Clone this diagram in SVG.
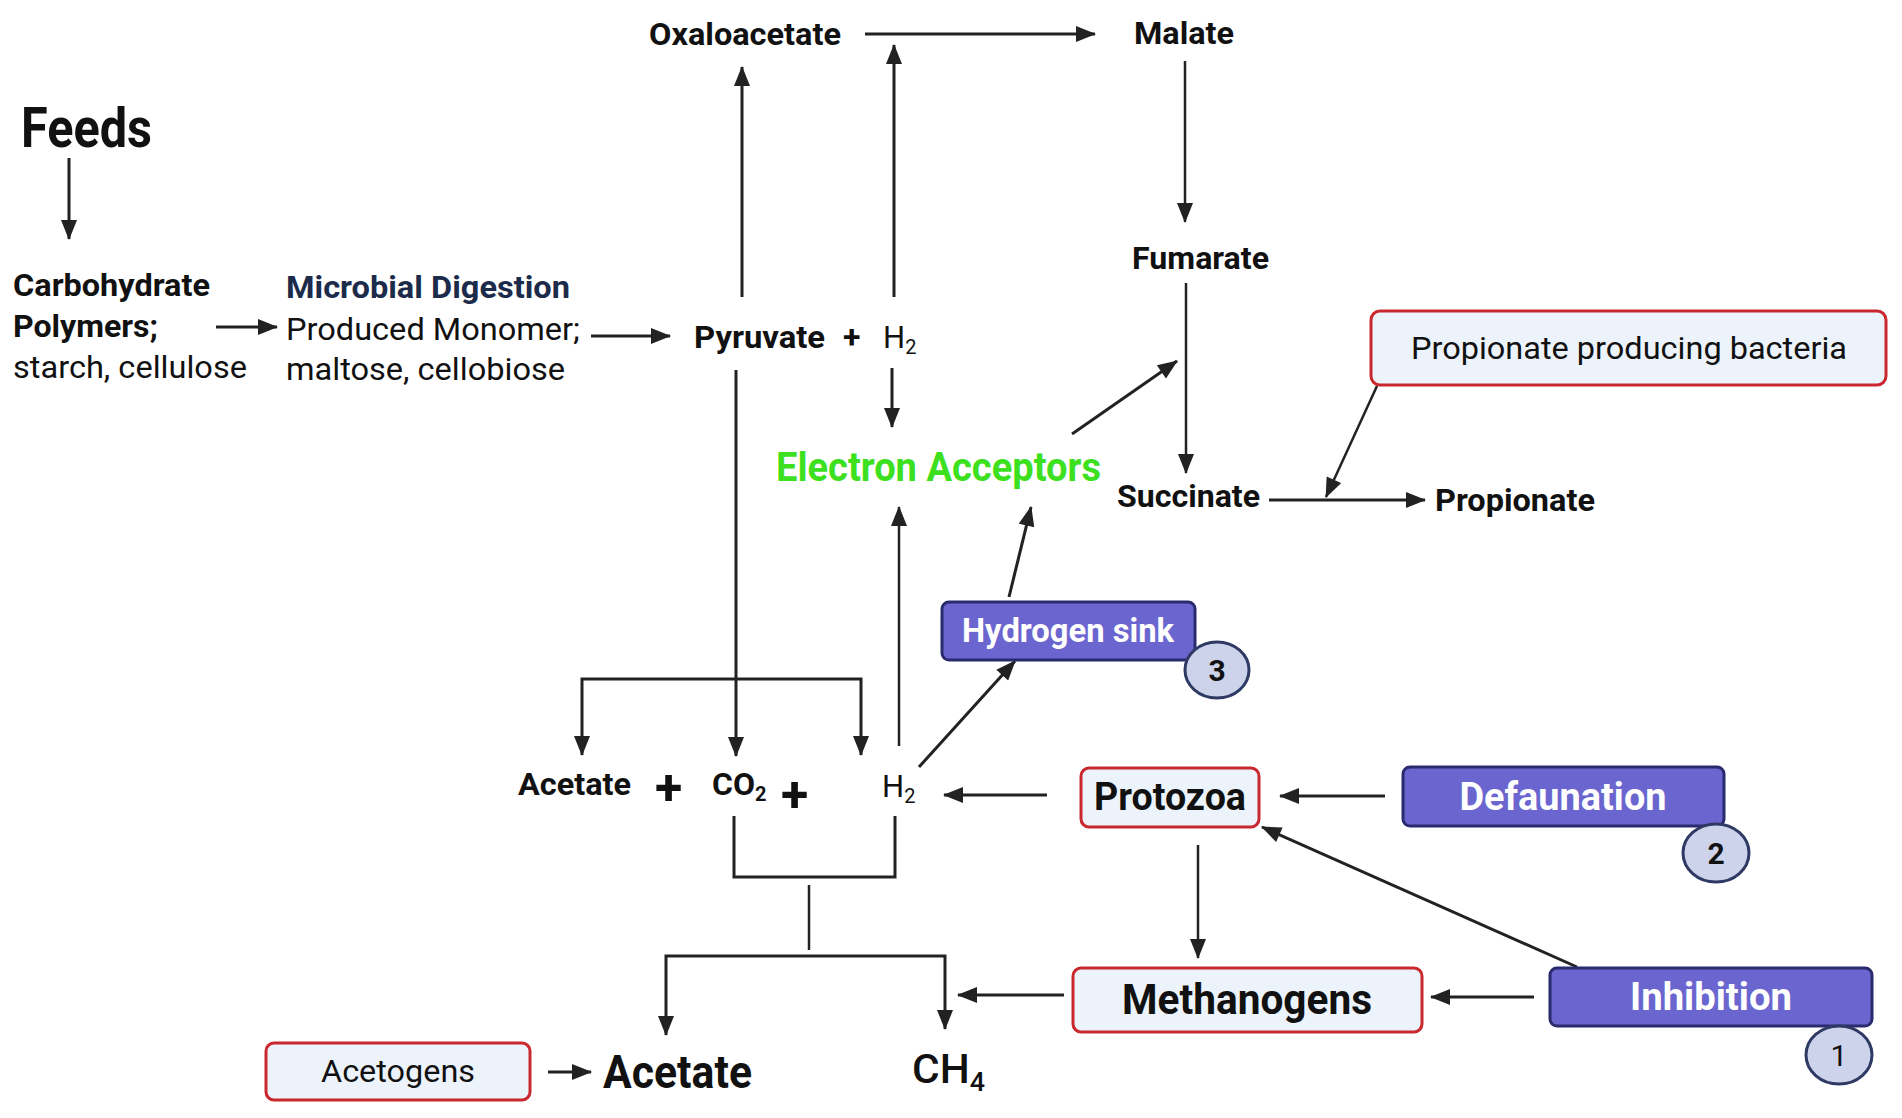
<svg xmlns="http://www.w3.org/2000/svg" width="1902" height="1118" viewBox="0 0 1902 1118">
<style>
text{font-family:Roboto,"Liberation Sans",sans-serif;fill:#111}
.b{font-weight:bold}
.lbl{font-size:32px;font-weight:bold}
.reg{font-size:31px}
.nav{fill:#1c2b4a}
.ln{fill:none;stroke:#222;stroke-width:3}
.thin{fill:none;stroke:#222;stroke-width:2.5}
.arr{marker-end:url(#ah)}
.rbox{fill:#edf3fb;stroke:#c9282f;stroke-width:3}
.pbox{fill:#6b66cf;stroke:#2a2b6e;stroke-width:3}
.circ{fill:#ccd3ea;stroke:#2f3a64;stroke-width:3}
.wt{fill:#fff;font-weight:bold}
</style>
<defs>
<marker id="ah" viewBox="0 0 20 16" refX="19" refY="8" markerWidth="21" markerHeight="16" markerUnits="userSpaceOnUse" orient="auto">
<path d="M0,0 L20,8 L0,16 z" fill="#222"/>
</marker>
</defs>
<rect width="1902" height="1118" fill="#fff"/>

<g id="connectors">
<path class="ln arr" d="M69,158 V239"/>
<path class="ln arr" d="M216,327 H277"/>
<path class="ln arr" d="M591,336 H670"/>
<path class="ln arr" d="M742,297 V67"/>
<path class="ln arr" d="M894,297 V45"/>
<path class="ln arr" d="M865,34 H1095"/>
<path class="thin arr" d="M1185,61 V222"/>
<path class="thin arr" d="M1186,283 V473"/>
<path class="ln arr" d="M892,368 V427"/>
<path class="ln arr" d="M1072,434 L1177,361"/>
<path class="ln arr" d="M1269,500 H1425"/>
<path class="thin arr" d="M1377,386 L1326,497"/>
<path class="ln arr" d="M736,370 V756"/>
<path class="ln arr" d="M736,679 H582 V755"/>
<path class="ln arr" d="M736,679 H861 V755"/>
<path class="thin arr" d="M899,746 V507"/>
<path class="ln arr" d="M1009,597 L1031,507"/>
<path class="ln arr" d="M919,767 L1015,661"/>
<path class="ln arr" d="M1047,795 H944"/>
<path class="ln arr" d="M1385,796 H1280"/>
<path class="thin arr" d="M1198,845 V958"/>
<path class="ln arr" d="M1577,967 L1262,827"/>
<path class="ln" d="M734,816 V877 H895 V816"/>
<path class="thin" d="M809,885 V950"/>
<path class="ln arr" d="M809,956 H666 V1035"/>
<path class="ln arr" d="M809,956 H945 V1029"/>
<path class="ln arr" d="M1064,995 H958"/>
<path class="ln arr" d="M1534,997 H1431"/>
<path class="ln arr" d="M548,1072 H591"/>
</g>

<g id="feeds"><text x="21" y="147" class="b" font-size="56" textLength="131" lengthAdjust="spacingAndGlyphs">Feeds</text></g>

<g id="carbohydrate">
<text x="13" y="296" class="lbl" textLength="197" lengthAdjust="spacingAndGlyphs">Carbohydrate</text>
<text x="13" y="337" class="lbl" textLength="145" lengthAdjust="spacingAndGlyphs">Polymers;</text>
<text x="13" y="378" class="reg" textLength="234" lengthAdjust="spacingAndGlyphs">starch, cellulose</text>
</g>

<g id="microbial">
<text x="286" y="298" class="lbl nav" textLength="284" lengthAdjust="spacingAndGlyphs">Microbial Digestion</text>
<text x="286" y="340" class="reg" textLength="294" lengthAdjust="spacingAndGlyphs">Produced Monomer;</text>
<text x="286" y="380" class="reg" textLength="279" lengthAdjust="spacingAndGlyphs">maltose, cellobiose</text>
</g>

<g id="pyruvate">
<text x="694" y="348" class="lbl" textLength="131" lengthAdjust="spacingAndGlyphs">Pyruvate</text>
<text x="843" y="348" class="lbl">+</text>
<text x="883" y="348" class="reg">H<tspan font-size="20" dy="6">2</tspan></text>
</g>

<g id="oxaloacetate"><text x="649" y="45" class="lbl" textLength="192" lengthAdjust="spacingAndGlyphs">Oxaloacetate</text></g>
<g id="malate"><text x="1134" y="44" class="lbl" textLength="100" lengthAdjust="spacingAndGlyphs">Malate</text></g>
<g id="fumarate"><text x="1132" y="269" class="lbl" textLength="137" lengthAdjust="spacingAndGlyphs">Fumarate</text></g>
<g id="succinate"><text x="1117" y="507" class="lbl" textLength="143" lengthAdjust="spacingAndGlyphs">Succinate</text></g>
<g id="propionate"><text x="1435" y="511" class="lbl" textLength="160" lengthAdjust="spacingAndGlyphs">Propionate</text></g>

<g id="electron-acceptors"><text x="776" y="481" font-size="40" font-weight="bold" style="fill:#3ce01e" textLength="325" lengthAdjust="spacingAndGlyphs">Electron Acceptors</text></g>

<g id="propionate-bacteria">
<rect class="rbox" x="1371" y="311" width="515" height="74" rx="9"/>
<text x="1629" y="359" class="reg" font-size="33" text-anchor="middle" textLength="436" lengthAdjust="spacingAndGlyphs">Propionate producing bacteria</text>
</g>

<g id="hydrogen-sink">
<rect class="pbox" x="942" y="602" width="253" height="58" rx="7"/>
<text x="1068" y="642" class="wt" font-size="33" text-anchor="middle" textLength="212" lengthAdjust="spacingAndGlyphs">Hydrogen sink</text>
<ellipse class="circ" cx="1217" cy="670" rx="32" ry="28"/>
<text x="1217" y="681" class="b" font-size="30" text-anchor="middle">3</text>
</g>

<g id="products">
<text x="518" y="795" class="lbl" textLength="113" lengthAdjust="spacingAndGlyphs">Acetate</text>
<text x="655" y="805" class="b" font-size="50">+</text>
<text x="712" y="795" class="lbl">CO<tspan font-size="20" dy="6">2</tspan></text>
<text x="781" y="812" class="b" font-size="50">+</text>
<text x="882" y="797" class="reg">H<tspan font-size="20" dy="6">2</tspan></text>
</g>

<g id="protozoa">
<rect class="rbox" x="1081" y="768" width="178" height="59" rx="8"/>
<text x="1170" y="810" class="b" font-size="39" text-anchor="middle" textLength="152" lengthAdjust="spacingAndGlyphs">Protozoa</text>
</g>

<g id="defaunation">
<rect class="pbox" x="1403" y="767" width="321" height="59" rx="7"/>
<text x="1563" y="810" class="wt" font-size="39" text-anchor="middle" textLength="207" lengthAdjust="spacingAndGlyphs">Defaunation</text>
<ellipse class="circ" cx="1716" cy="853" rx="33" ry="29"/>
<text x="1716" y="864" class="b" font-size="30" text-anchor="middle">2</text>
</g>

<g id="methanogens">
<rect class="rbox" x="1073" y="968" width="349" height="64" rx="8"/>
<text x="1247" y="1014" class="b" font-size="43" text-anchor="middle" textLength="250" lengthAdjust="spacingAndGlyphs">Methanogens</text>
</g>

<g id="inhibition">
<rect class="pbox" x="1550" y="968" width="322" height="58" rx="7"/>
<text x="1711" y="1010" class="wt" font-size="39" text-anchor="middle" textLength="162" lengthAdjust="spacingAndGlyphs">Inhibition</text>
<ellipse class="circ" cx="1839" cy="1055" rx="33" ry="29"/>
<text x="1839" y="1066" font-size="30" text-anchor="middle">1</text>
</g>

<g id="acetogens">
<rect class="rbox" x="266" y="1043" width="264" height="57" rx="8"/>
<text x="398" y="1082" class="reg" font-size="31" text-anchor="middle" textLength="154" lengthAdjust="spacingAndGlyphs">Acetogens</text>
</g>

<g id="acetate"><text x="603" y="1088" class="b" font-size="47" textLength="149" lengthAdjust="spacingAndGlyphs">Acetate</text></g>
<g id="ch4"><text x="912" y="1083" font-size="41" font-weight="500" textLength="73" lengthAdjust="spacingAndGlyphs">CH<tspan font-size="26" dy="8">4</tspan></text></g>
</svg>
